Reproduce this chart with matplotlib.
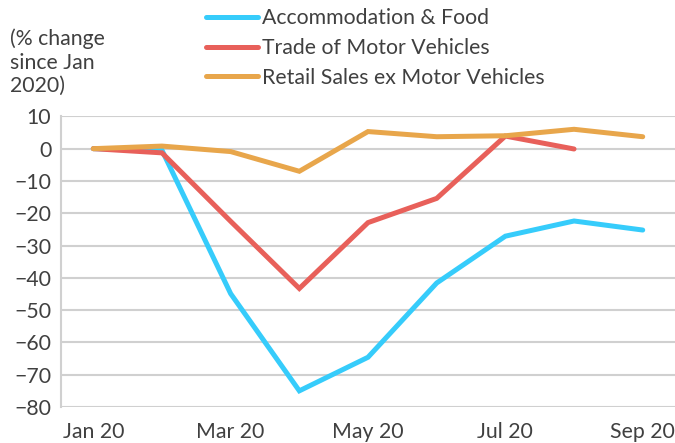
import numpy as np
import matplotlib
matplotlib.use("Agg")
from matplotlib import pyplot as plt

months = ["Jan 20", "Feb 20", "Mar 20", "Apr 20", "May 20", "Jun 20", "Jul 20", "Aug 20", "Sep 20"]
accommodation = [0, -0.5, -44.9, -75.0, -64.6, -41.6, -27.1, -22.4, -25.2]
motor_trade = [0, -1.3, -22.5, -43.3, -22.9, -15.4, 3.9, -0.1]
retail_ex_motor = [0, 0.8, -0.9, -7.0, 5.3, 3.7, 4.0, 6.0, 3.7]

series = [
    ("Accommodation & Food", accommodation, "#36CCFB"),
    ("Trade of Motor Vehicles", motor_trade, "#E8605A"),
    ("Retail Sales ex Motor Vehicles", retail_ex_motor, "#E8A64B"),
]

text_color = "#404040"
grid_color = "#D0D0D0"
fs = 15.3

plt.rcParams['font.family'] = ['Lato', 'DejaVu Sans']

fig = plt.figure(figsize=(6.75, 4.43), dpi=100)
ax = fig.add_axes([0.0904, 0.0813, 0.9096, 0.656])

for label, values, c in series:
    ax.plot(range(len(values)), values, color=c, lw=3.6, label=label,
            solid_capstyle='round', solid_joinstyle='miter', zorder=3)

ax.set_xlim(-0.47, 8.47)
ax.set_ylim(-80, 10)
ax.set_yticks(np.arange(-80, 11, 10))
ax.set_xticks(range(0, 9, 2))
ax.set_xticklabels(months[::2])
ax.tick_params(axis='both', length=0, labelsize=fs, colors=text_color)
ax.tick_params(axis='y', pad=7)
ax.tick_params(axis='x', pad=11)

ax.grid(axis='y', color=grid_color, lw=1.5, zorder=0)
for s in ["top", "right", "bottom"]:
    ax.spines[s].set_visible(False)
ax.spines["left"].set_color(grid_color)
ax.spines["left"].set_linewidth(1.5)

fig.text(0.015, 0.935, "(% change\nsince Jan\n2020)", ha='left', va='top',
         fontsize=fs, color=text_color, linespacing=1.2)

fig.legend(loc='upper left', bbox_to_anchor=(0.292, 1.0), frameon=False,
           fontsize=fs, handlelength=2.45, handletextpad=0.22, labelspacing=0.45,
           labelcolor=text_color, borderaxespad=0)

fig.savefig("out.png", dpi=100)
